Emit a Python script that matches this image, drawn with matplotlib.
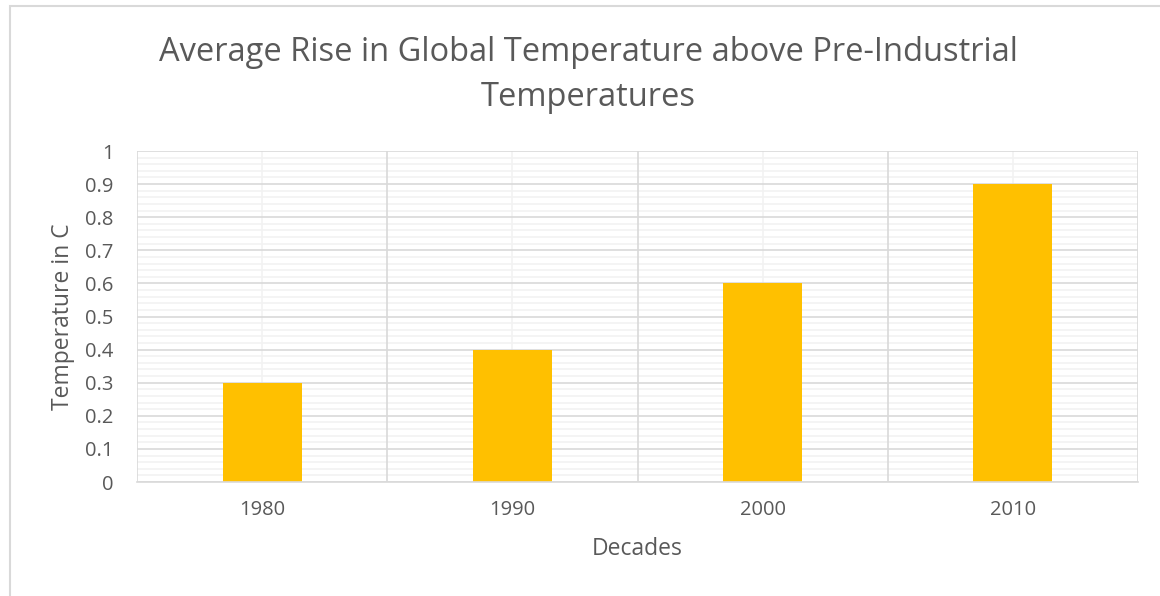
import matplotlib
matplotlib.use("Agg")
import matplotlib.pyplot as plt
from matplotlib.patches import Rectangle
from matplotlib.ticker import MultipleLocator

decades = ["1980", "1990", "2000", "2010"]
temps = [0.3, 0.4, 0.6, 0.9]
y_ticks = [0, 0.1, 0.2, 0.3, 0.4, 0.5, 0.6, 0.7, 0.8, 0.9, 1]
y_tick_labels = ["0", "0.1", "0.2", "0.3", "0.4", "0.5", "0.6", "0.7", "0.8", "0.9", "1"]

plt.rcParams["font.family"] = ["Open Sans", "DejaVu Sans"]
W, H = 1160, 596
fig = plt.figure(figsize=(W / 100, H / 100), dpi=100)

# outer chart frame (left and top edges visible)
fig.patches.append(Rectangle((10 / W, -0.1), 1.2, (H - 6) / H + 0.1,
                             transform=fig.transFigure, fill=False,
                             edgecolor="#d9d9d9", linewidth=1.5))

ax = fig.add_axes([137 / W, 1 - 482 / H, (1138 - 137) / W, (482 - 151) / H])
x = list(range(len(decades)))
ax.bar(x, temps, width=0.316, color="#ffc000", zorder=3)

ax.set_xlim(-0.5, len(decades) - 0.5)
ax.set_ylim(0, 1)
ax.set_yticks(y_ticks)
ax.set_yticklabels(y_tick_labels)
ax.yaxis.set_minor_locator(MultipleLocator(0.02))
ax.set_xticks(x)
ax.set_xticklabels(decades)

ax.set_axisbelow(True)
ax.grid(which="minor", axis="y", color="#f2f2f2", linewidth=1.2)
ax.grid(which="major", axis="x", color="#f2f2f2", linewidth=1.2)
ax.grid(which="major", axis="y", color="#d9d9d9", linewidth=1.2)

# category boundary lines
for b in [i + 0.5 for i in range(-1, len(decades))]:
    ax.axvline(b, color="#d9d9d9", linewidth=1.2, zorder=1)

for s in ["top", "right", "left"]:
    ax.spines[s].set_visible(False)
ax.spines["bottom"].set_color("#d9d9d9")
ax.spines["bottom"].set_linewidth(1.2)
ax.spines["bottom"].set_zorder(4)

ax.tick_params(which="both", length=0, colors="#595959", labelsize=14.5)
ax.tick_params(axis="x", pad=13)
ax.tick_params(axis="y", pad=17)

ax.set_xlabel("Decades", fontsize=16.5, color="#595959", labelpad=12)
ax.set_ylabel("Temperature in C", fontsize=16.5, color="#595959", labelpad=7)

fig.text(588 / W, 1 - 75 / H,
         "Average Rise in Global Temperature above Pre-Industrial\nTemperatures",
         ha="center", va="center", fontsize=23.5, color="#595959", linespacing=1.5)

fig.savefig("out.png", dpi=100, facecolor="white")
